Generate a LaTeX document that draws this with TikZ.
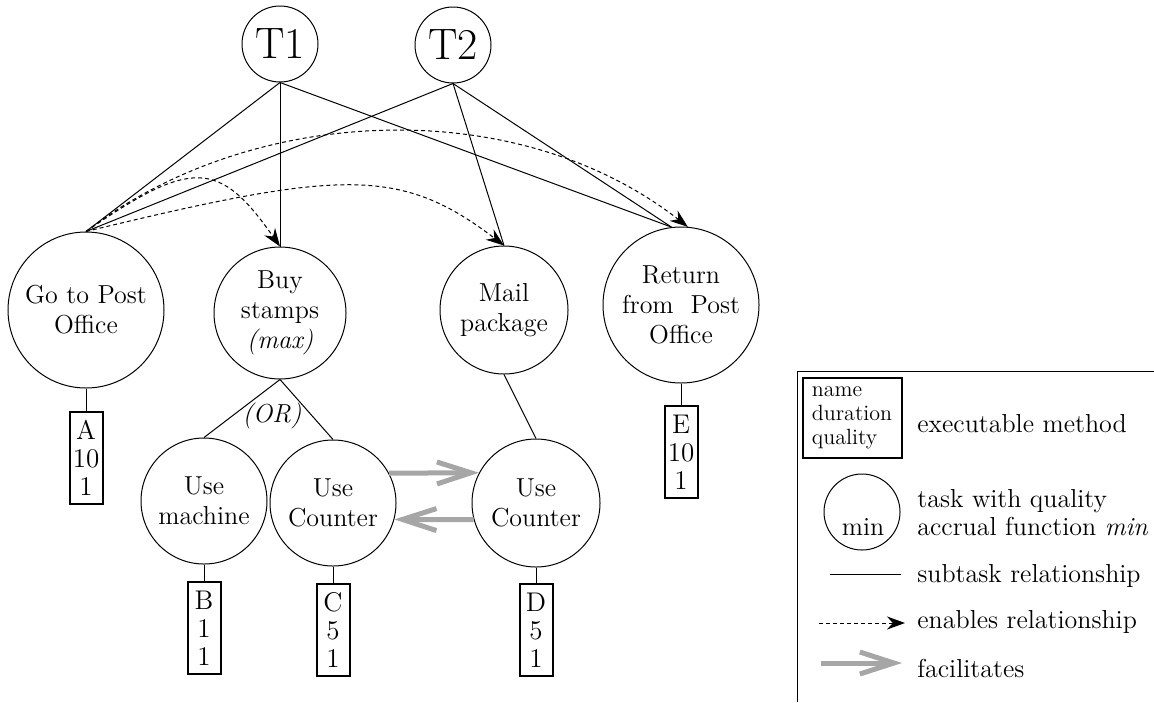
\documentclass[tikz,border=0pt]{standalone}
\usepackage{tikz}
\usetikzlibrary{arrows.meta}
\definecolor{facgray}{HTML}{A6A6A6}
\tikzset{
  tasknode/.style={circle,draw,line width=0.5pt,inner sep=0pt,align=center,font=\fontsize{13}{15}\selectfont},
  toptask/.style={circle,draw,line width=0.5pt,inner sep=0pt,minimum size=38pt,font=\fontsize{22}{24}\selectfont},
  methodbox/.style={draw,line width=1pt,inner sep=1pt,minimum width=16.5pt,minimum height=46pt,align=center,font=\fontsize{13.5}{14}\selectfont},
  subtask/.style={line width=0.5pt},
  enables/.style={line width=0.5pt,dash pattern=on 2pt off 1.5pt,-{Stealth[length=9pt,width=6.5pt]}},
  facil/.style={draw=facgray,line width=2.5pt,-{Straight Barb[length=17pt,width=11pt]}},
  legtext/.style={anchor=base west,inner sep=0pt,font=\fontsize{13}{14}\selectfont}
}
\begin{document}
\begin{tikzpicture}[x=0.5pt,y=-0.5pt]
\useasboundingbox (0,0) rectangle (1154,702);
\node[toptask] (t1) at (280,44) {T1};
\node[toptask] (t2) at (453,45) {T2};
\node[tasknode,minimum size=78pt] (go) at (86,310) {Go to Post\\Office};
\node[tasknode,minimum size=66pt] (buy) at (280,313) {Buy\\stamps\\\textit{(max)}};
\node[tasknode,minimum size=64pt] (mail) at (504,310) {Mail\\package};
\node[tasknode,minimum size=78pt] (ret) at (681,305) {Return\\from~ Post\\Office};
\node[tasknode,minimum size=63pt] (mach) at (204,501) {Use\\machine};
\node[tasknode,minimum size=63pt] (cntc) at (333,503) {Use\\Counter};
\node[tasknode,minimum size=64pt] (cntd) at (536,503) {Use\\Counter};
\node[font=\fontsize{13}{15}\selectfont\itshape] (ornote) at (272,416) {(OR)};
\node[methodbox] (ma) at (86,458) {A\\10\\1};
\node[methodbox] (mb) at (204,628) {B\\1\\1};
\node[methodbox] (mc) at (333,630) {C\\5\\1};
\node[methodbox] (md) at (536,630) {D\\5\\1};
\node[methodbox] (me) at (681,452) {E\\10\\1};
\foreach \a/\b in {t1/go,t1/buy,t2/go,t2/mail,go/ma,mach/mb,cntc/mc,cntd/md,ret/me,buy/mach,buy/cntc,mail/cntd}
  \draw[subtask] (\a.south) -- (\b.north);
\draw[subtask] (t1.south) -- (ret.97);
\draw[subtask] (t2.south) -- (ret.97);
\draw[enables] (go.north) .. controls (191,159) and (219,159) .. (buy.north);
\draw[enables] (go.north) .. controls (340,170) and (400,166) .. (mail.north);
\draw[enables] (go.north) .. controls (250,105) and (515,92) .. (ret.85);
\draw[facil] (cntc.28) -- (cntd.152);
\draw[facil] (cntd.195) -- (cntc.-15);
\draw[line width=0.5pt] (797,702) -- (797,371) -- (1154,371);
\node[methodbox,minimum width=49.5pt,minimum height=40pt,align=left,inner xsep=4pt,font=\fontsize{11}{12}\selectfont] (lgmethod) at (852,418) {name\\duration\\quality};
\node[legtext] (lgexec) at (917,432) {executable method};
\node[tasknode,minimum size=38pt] (lgtask) at (862,512) {};
\node[font=\fontsize{13}{15}\selectfont,anchor=base,inner sep=0pt] (lgmin) at (863,535) {min};
\node[legtext,anchor=north west,align=left,font=\fontsize{13}{14}\selectfont] (lgtasktext) at (917,489) {task with quality\\accrual function \textit{min}};
\coordinate (lgsubA) at (830,574);
\coordinate (lgsubB) at (901,574);
\draw[subtask] (lgsubA) -- (lgsubB);
\node[legtext] (lgsub) at (917,582) {subtask relationship};
\coordinate (lgenA) at (819,623);
\coordinate (lgenB) at (905,623);
\draw[enables] (lgenA) -- (lgenB);
\node[legtext] (lgen) at (917,628) {enables relationship};
\coordinate (lgfacA) at (821,663);
\coordinate (lgfacB) at (902,663);
\draw[facil] (lgfacA) -- (lgfacB);
\node[legtext] (lgfac) at (917,677) {facilitates};
\end{tikzpicture}
\end{document}
